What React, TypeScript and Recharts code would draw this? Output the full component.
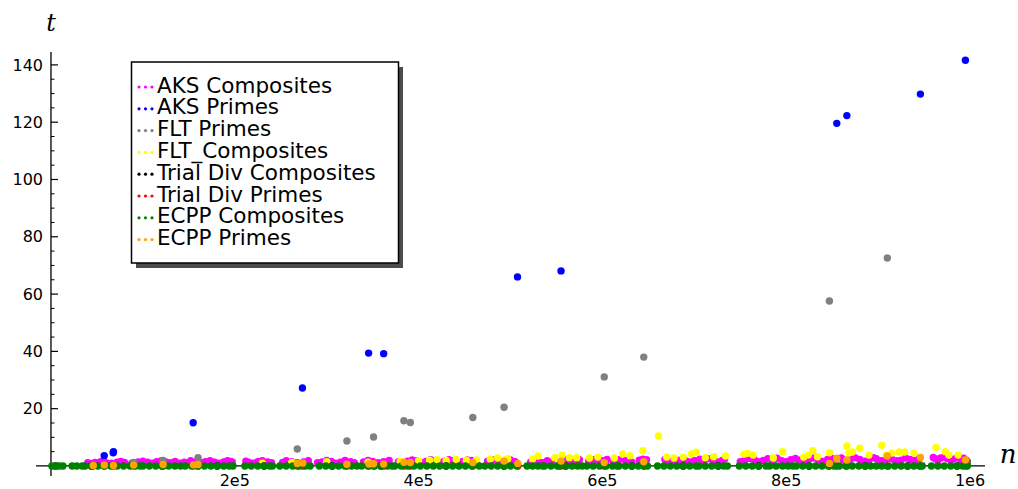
import { FC } from 'react'
import { ScatterChart, Scatter, XAxis, YAxis, ReferenceLine } from 'recharts'

// n in thousands, t in seconds
const aksComposites: [number, number][] = [
  [40, 1.1], [48, 1.2], [60, 1.1], [72, 1.3], [80, 1.2], [95, 1.4], [105, 1.3], [115, 1.5], [125, 1.4], [135, 1.6],
  [145, 1.3], [158, 1.4], [168, 1.5], [178, 1.3], [188, 1.4], [196, 1.6], [215, 1.3], [225, 1.5], [236, 1.4], [252, 1.2],
  [262, 1.5], [275, 1.4], [295, 1.4], [305, 1.6], [315, 1.3], [326, 1.5], [340, 1.4], [350, 1.6], [362, 1.5], [378, 1.5],
  [388, 1.7], [398, 1.8], [408, 1.6], [418, 1.9], [428, 1.7], [438, 1.8], [448, 1.6], [458, 1.9], [475, 1.7], [485, 1.9],
  [495, 1.6], [505, 1.5], [522, 1.4], [530, 1.6], [540, 1.8], [555, 1.5], [570, 1.7], [585, 1.6], [600, 1.8], [612, 1.5],
  [625, 1.9], [640, 2.0], [648, 2.2], [672, 1.8], [684, 2.0], [692, 1.7], [700, 1.9], [710, 1.6], [720, 2.0], [730, 1.8],
  [755, 2.1], [765, 2.3], [775, 1.9], [785, 2.0], [795, 1.8], [805, 2.2], [815, 2.0], [825, 2.4], [835, 2.1], [845, 2.3],
  [850, 2.5], [862, 2.2], [870, 2.4], [880, 2.3], [890, 2.1], [898, 2.5], [908, 2.2], [915, 2.4], [925, 2.0], [935, 2.3],
  [945, 2.6], [962, 2.5], [968, 2.8], [975, 2.6], [982, 2.4], [990, 2.2], [996, 2.0],
  [44, 0.9], [54, 1.5], [66, 1.0], [76, 1.6], [88, 1.0], [100, 1.7], [110, 1.0], [120, 1.8], [130, 1.1], [140, 1.0],
  [152, 1.8], [163, 1.1], [173, 1.8], [183, 1.0], [192, 1.8], [212, 1.7], [220, 1.0], [230, 1.8], [240, 1.1], [256, 1.8],
  [268, 1.1], [280, 1.8], [290, 1.1], [300, 1.9], [310, 1.0], [320, 1.9], [330, 1.1], [345, 1.9], [356, 1.1], [368, 1.9],
  [383, 1.0], [393, 2.1], [403, 1.1], [413, 2.2], [423, 1.2], [433, 2.2], [443, 1.2], [453, 2.1], [463, 1.2], [480, 2.2],
  [490, 1.2], [500, 2.1], [526, 2.0], [535, 1.1], [545, 1.3], [560, 2.1], [565, 1.2], [575, 2.2], [590, 2.2], [595, 1.2],
  [605, 2.3], [618, 2.2], [632, 1.3], [644, 2.4], [668, 2.3], [678, 1.4], [688, 2.5], [696, 1.3], [706, 2.4], [715, 2.5],
  [725, 1.4], [733, 2.4], [750, 1.5], [760, 2.6], [770, 1.5], [780, 2.5], [790, 2.7], [800, 1.5], [810, 2.6], [820, 1.5],
  [830, 2.8], [840, 1.6], [848, 2.9], [860, 2.8], [866, 1.7], [875, 2.9], [885, 1.7], [895, 2.9], [903, 1.8], [912, 2.9],
  [920, 1.8], [930, 2.8], [940, 1.9], [960, 3.0], [965, 1.9], [972, 3.1], [979, 1.9], [986, 2.9], [993, 2.7],
]

const aksPrimes: [number, number][] = [
  [57.9, 3.6], [67.7, 4.6], [68.0, 5.0], [154.7, 15.1], [273.6, 27.2], [345.6, 39.4], [362, 39.2],
  [507.6, 66.0], [555, 68.1], [855, 119.6], [866, 122.3], [946, 129.8], [995, 141.6],
]

const fltPrimes: [number, number][] = [
  [90, 1.2], [122, 1.9], [160, 2.9], [268, 5.9], [322, 8.7], [351, 10.1], [384, 15.8], [391, 15.2],
  [459, 16.9], [493, 20.5], [602, 31.1], [645, 38.0], [847, 57.6], [910, 72.6],
]

const fltComposites: [number, number][] = [
  [230, 1.0], [262, 1.2], [300, 1.5], [345, 1.3], [380, 1.6], [400, 1.8], [412, 2.0], [420, 2.2], [430, 1.9], [441, 2.3],
  [452, 2.0], [463, 2.1], [478, 2.4], [486, 2.8], [494, 2.1], [497, 2.5], [524, 2.4], [530, 3.5], [548, 2.9], [556, 3.8],
  [564, 2.9], [572, 2.9], [586, 2.8], [595, 3.1], [613, 2.8], [622, 4.2], [630, 3.6], [644, 5.3], [661, 10.5], [670, 3.1],
  [678, 2.8], [688, 3.1], [697, 4.2], [702, 4.8], [712, 2.9], [721, 3.2], [734, 3.5], [754, 4.1], [758, 4.4], [764, 3.8],
  [786, 2.8], [796, 5.0], [819, 3.1], [824, 3.8], [829, 5.3], [834, 3.2], [847, 4.6], [866, 7.0], [868, 4.5], [872, 4.9],
  [880, 6.2], [890, 3.8], [904, 7.2], [909, 3.8], [915, 4.5], [923, 4.9], [929, 4.9], [939, 4.5], [963, 6.5], [973, 5.0],
  [977, 3.8], [987, 3.8],
]

// these two read as t = 0 throughout
const trialDivCompositesN = [5, 44, 121, 181, 232, 306, 359, 430, 493, 560, 632, 688, 726, 770, 825, 886, 932, 986]
const trialDivPrimesN = [46, 58, 68, 90, 122, 155, 160, 268, 274, 322, 346, 351, 362, 384, 391, 459, 493, 508, 555, 602, 645, 847, 855, 866, 910, 946, 995]

const ecppCompositesN = [
  1, 5, 9, 13, 23, 28, 34, 37, 44, 51, 58, 65, 72, 79, 86, 92, 97, 100, 107, 114, 121, 128, 135, 141, 146,
  153, 160, 167, 174, 181, 188, 194, 198, 211, 218, 225, 232, 238, 241, 249, 256, 263, 270, 277, 282,
  292, 299, 306, 313, 320, 327, 333, 338, 345, 352, 359, 366, 371, 374, 381, 388, 395, 402, 409, 416, 423,
  430, 437, 444, 451, 458, 466, 472, 479, 486, 493, 500, 507, 518, 524, 530, 535, 537, 544, 551, 553, 560,
  567, 573, 578, 583, 590, 597, 604, 611, 616, 618, 625, 632, 639, 645, 649, 660, 667, 674, 681, 688, 695,
  702, 705, 712, 719, 726, 732, 736, 749, 756, 763, 770, 778, 782, 789, 796, 802, 807, 811, 818, 825, 832,
  839, 846, 852, 858, 865, 872, 879, 886, 892, 898, 904, 911, 918, 925, 932, 939, 945, 948, 958, 965, 972,
  979, 986, 992, 997,
]

const ecppPrimes: [number, number][] = [
  [46, 0.2], [58, 0.3], [68, 0.2], [90, 0.3], [122, 0.5], [155, 0.4], [160, 0.5], [268, 0.9], [274, 1.0], [322, 0.6],
  [346, 0.7], [351, 0.8], [362, 0.7], [384, 1.3], [391, 1.2], [459, 1.2], [493, 1.7], [508, 0.9], [555, 1.7], [602, 1.2],
  [645, 1.5], [847, 0.9], [855, 2.7], [866, 2.1], [910, 3.5], [946, 3.0], [995, 2.1],
]

const xTicks = [200000, 400000, 600000, 800000, 1000000]
const xTickLabels = ['2e5', '4e5', '6e5', '8e5', '1e6']
const xMinorTicks = [50000, 100000, 150000, 250000, 300000, 350000, 450000, 500000, 550000, 650000, 700000, 750000, 850000, 900000, 950000]
const yTicks = [20, 40, 60, 80, 100, 120, 140]
const yMinorTicks = [5, 10, 15, 25, 30, 35, 45, 50, 55, 65, 70, 75, 85, 90, 95, 105, 110, 115, 125, 130, 135]

const legendItems = [
  { name: 'AKS Composites', color: '#ff00ff' },
  { name: 'AKS Primes', color: '#0000ff' },
  { name: 'FLT Primes', color: '#808080' },
  { name: 'FLT_Composites', color: '#ffff00' },
  { name: 'Trial Div Composites', color: '#000000' },
  { name: 'Trial Div Primes', color: '#ff0000' },
  { name: 'ECPP Composites', color: '#008000' },
  { name: 'ECPP Primes', color: '#ffa500' },
]

const toPts = (arr: [number, number][]) => arr.map(([n, t]) => ({ n: n * 1000, t }))
const zeroPts = (arr: number[]) => arr.map((n) => ({ n: n * 1000, t: 0 }))

const dot = (color: string) => (p: any) => <circle cx={p.cx} cy={p.cy} r={3.7} fill={color} />

const font = "'DejaVu Sans', sans-serif"

const App: FC = () => {
  const xLen = 7600 // tick length on the y axis, in n units
  return (
    <div style={{ position: 'absolute', left: 0, top: 0, width: 1018, height: 489, background: '#fff' }}>
      <ScatterChart width={1018} height={489} margin={{ top: 52, right: 33, bottom: 0, left: 6 }}>
        <XAxis
          type="number"
          dataKey="n"
          domain={[-16300, 1016300]}
          ticks={xTicks}
          tickFormatter={(v) => xTickLabels[xTicks.indexOf(v)]}
          axisLine={false}
          tickLine={false}
          tickSize={0}
          tickMargin={-1}
          height={13}
          allowDataOverflow
          tick={{ fill: '#000', fontSize: 16, fontFamily: font }}
        />
        <YAxis
          type="number"
          dataKey="t"
          domain={[-3.5, 144.5]}
          ticks={yTicks}
          axisLine={false}
          tickLine={false}
          tickSize={0}
          tickMargin={-7}
          width={30}
          allowDataOverflow
          tick={{ fill: '#000', fontSize: 16, fontFamily: font }}
        />
        <Scatter data={toPts(aksComposites)} fill="#ff00ff" shape={dot('#ff00ff')} isAnimationActive={false} />
        <Scatter data={toPts(aksPrimes)} fill="#0000ff" shape={dot('#0000ff')} isAnimationActive={false} />
        <Scatter data={toPts(fltPrimes)} fill="#808080" shape={dot('#808080')} isAnimationActive={false} />
        <Scatter data={toPts(fltComposites)} fill="#ffff00" shape={dot('#ffff00')} isAnimationActive={false} />
        <Scatter data={zeroPts(trialDivCompositesN)} fill="#000" shape={dot('#000000')} isAnimationActive={false} />
        <Scatter data={zeroPts(trialDivPrimesN)} fill="#ff0000" shape={dot('#ff0000')} isAnimationActive={false} />
        <Scatter data={zeroPts(ecppCompositesN)} fill="#008000" shape={dot('#008000')} isAnimationActive={false} />
        <Scatter data={toPts(ecppPrimes)} fill="#ffa500" shape={dot('#ffa500')} isAnimationActive={false} />
        <ReferenceLine y={0} stroke="#000" strokeWidth={1.3} />
        <ReferenceLine x={0} stroke="#000" strokeWidth={1.3} />
        {xTicks.map((v) => (
          <ReferenceLine key={'xt' + v} segment={[{ x: v, y: 0 }, { x: v, y: 2.3 }]} stroke="#000" strokeWidth={1.2} />
        ))}
        {xMinorTicks.map((v) => (
          <ReferenceLine key={'xm' + v} segment={[{ x: v, y: 0 }, { x: v, y: 1.2 }]} stroke="#000" strokeWidth={1} />
        ))}
        {yTicks.map((v) => (
          <ReferenceLine key={'yt' + v} segment={[{ x: 0, y: v }, { x: xLen, y: v }]} stroke="#000" strokeWidth={1.2} />
        ))}
        {yMinorTicks.map((v) => (
          <ReferenceLine key={'ym' + v} segment={[{ x: 0, y: v }, { x: xLen / 2, y: v }]} stroke="#000" strokeWidth={1} />
        ))}
      </ScatterChart>
      <svg width={1018} height={489} style={{ position: 'absolute', left: 0, top: 0, pointerEvents: 'none' }}>
        <text x={51} y={30.5} textAnchor="middle" fontFamily="'DejaVu Serif', serif" fontStyle="italic" fontSize={24}>t</text>
        <text x={1008} y={463} textAnchor="middle" fontFamily="'DejaVu Serif', serif" fontStyle="italic" fontSize={26}>n</text>
        <rect x={136} y={67} width={267} height={201} fill="#4d4d4d" />
        <rect x={131.5} y={62} width={267} height={201} fill="#fff" stroke="#000" strokeWidth={1.5} />
        {legendItems.map((it, i) => {
          const cy = 85 + i * 21.8
          return (
            <g key={it.name}>
              {[139, 145.5, 152].map((cx) => (
                <circle key={cx} cx={cx} cy={cy + 2} r={1.6} fill={it.color} />
              ))}
              <text x={157} y={cy + 7.5} fontFamily={font} fontSize={21.5} fill="#000">{it.name}</text>
            </g>
          )
        })}
      </svg>
    </div>
  )
}

export default App
